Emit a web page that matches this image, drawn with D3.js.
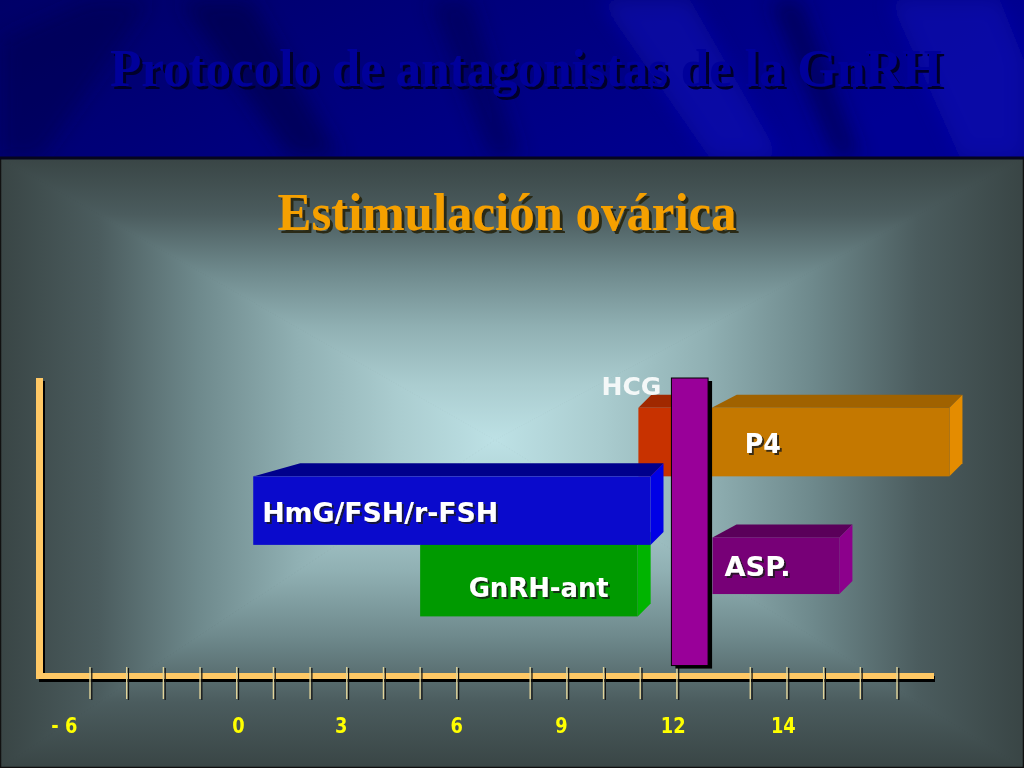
<!DOCTYPE html>
<html>
<head>
<meta charset="utf-8">
<script src="https://cdn.jsdelivr.net/npm/d3@7"></script>
<style>
  html, body { margin: 0; padding: 0; background: #000; }
  svg { display: block; }
</style>
</head>
<body>
<svg id="chart" width="1024" height="768"></svg>
<script>
// days on the horizontal axis
const tickDays = [-4, -3, -2, -1, 0, 1, 2, 3, 4, 5, 6, 8, 9, 10, 11, 12, 14, 15, 16, 17, 18];
const tickLabels = ["- 6", "0", "3", "6", "9", "12", "14"];
const tickLabelDays = [-4.7, 0.05, 2.85, 6.0, 8.85, 11.9, 14.9];

// bars: start/end in days, low/high in level units (0..10)
const barNames = ["P4-pre", "P4", "GnRH-ant", "HmG/FSH/r-FSH", "ASP.", "HCG"];
const barStart = [10.95, 12.95, 5.0, 0.45, 12.97, 11.85];
const barEnd = [12.3, 19.43, 10.93, 11.28, 16.43, 12.85];
const barLow = [6.7, 6.7, 2.0, 4.4, 2.75, 0.35];
const barHigh = [9.0, 9.0, 4.4, 6.7, 4.65, 10.0];
const barLabels = ["", "P4", "GnRH-ant", "HmG/FSH/r-FSH", "ASP.", "HCG"];

const title = "Protocolo de antagonistas de la GnRH";
const subtitle = "Estimulación ovárica";

// looks
const look = {
  "P4-pre": {front: "#c83200", top: "#a02800", side: "#c83200", lead: 13},
  "P4": {front: "#c47800", top: "#a06200", side: "#e48c00", lead: 25, anchor: "start", dx: 33, dy: 11, len: 36},
  "GnRH-ant": {front: "#009a00", top: "#007800", side: "#00b400", lead: 13, anchor: "end", dx: -29, dy: 16, len: 140},
  "HmG/FSH/r-FSH": {front: "#0a0acc", top: "#00008c", side: "#0000e6", lead: 47, anchor: "start", dx: 9, dy: 11, len: 236},
  "ASP.": {front: "#770077", top: "#5a005a", side: "#8c008c", lead: 24, anchor: "start", dx: 12, dy: 10, len: 66},
  "HCG": {front: "#990099", len: 60}
};
const depth = 13;

const svg = d3.select("#chart");
const W = 1024, H = 768, bandH = 158;
const defs = svg.append("defs");

// drop shadow filters
function shadowFilter(id, dx, col, opacity) {
  const f = defs.append("filter").attr("id", id).attr("x", "-5%").attr("y", "-20%")
    .attr("width", "115%").attr("height", "150%");
  f.append("feOffset").attr("in", "SourceAlpha").attr("dx", dx).attr("dy", dx).attr("result", "off");
  f.append("feFlood").attr("flood-color", col).attr("flood-opacity", opacity).attr("result", "col");
  f.append("feComposite").attr("in", "col").attr("in2", "off").attr("operator", "in").attr("result", "sh");
  const m = f.append("feMerge");
  m.append("feMergeNode").attr("in", "sh");
  m.append("feMergeNode").attr("in", "SourceGraphic");
}
shadowFilter("shTitle", 3, "#00002a", 1);
shadowFilter("shSub", 3, "#2c2c18", 1);
shadowFilter("shLab", 1.6, "#1a1a1a", 0.8);

// ---- backgrounds ----
const topGrad = defs.append("linearGradient").attr("id", "topGrad")
  .attr("x1", 0).attr("y1", 0).attr("x2", 1).attr("y2", 0.3);
topGrad.append("stop").attr("offset", 0).attr("stop-color", "#000068");
topGrad.append("stop").attr("offset", 0.5).attr("stop-color", "#00007e");
topGrad.append("stop").attr("offset", 1).attr("stop-color", "#000094");
svg.append("rect").attr("width", W).attr("height", bandH).attr("fill", "url(#topGrad)");

defs.append("filter").attr("id", "soft").attr("x", "-20%").attr("y", "-20%")
  .attr("width", "140%").attr("height", "140%")
  .append("feGaussianBlur").attr("stdDeviation", 10);

// streaks in the blue band
const streaks = [
  {pts: [[180, 0], [250, 0], [340, bandH], [290, bandH]], c: "#00003c", o: 0.5},
  {pts: [[430, 0], [470, 0], [520, bandH], [490, bandH]], c: "#000040", o: 0.4},
  {pts: [[600, 0], [690, 0], [780, bandH], [710, bandH]], c: "#2020d0", o: 0.35},
  {pts: [[770, 0], [800, 0], [860, bandH], [835, bandH]], c: "#000038", o: 0.5},
  {pts: [[890, 0], [1000, 0], [1024, 60], [1024, bandH], [960, bandH]], c: "#1a1ac8", o: 0.35},
  {pts: [[0, 40], [90, 0], [150, 0], [40, bandH], [0, bandH]], c: "#000040", o: 0.35}
];
const streakG = svg.append("g").attr("filter", "url(#soft)");
streakG.selectAll("path").data(streaks).join("path")
  .attr("d", d => "M" + d.pts.map(p => p.join(",")).join("L") + "Z")
  .attr("fill", d => d.c).attr("opacity", d => d.o);

// rectangular "from centre" gradient in the lower panel
const cx = 495, cy = 440;
const bgStops = [[0, "#394545"], [0.2, "#4b5c5e"], [0.4, "#6e898c"], [0.6, "#90b0b3"], [0.8, "#aacccf"], [1, "#bde1e5"]];
const faces = [
  {id: "bgTop", pts: [[0, bandH], [W, bandH], [cx, cy]], g: [0, bandH, 0, cy]},
  {id: "bgBot", pts: [[0, H], [W, H], [cx, cy]], g: [0, H, 0, cy]},
  {id: "bgLeft", pts: [[0, bandH], [0, H], [cx, cy]], g: [0, 0, cx, 0]},
  {id: "bgRight", pts: [[W, bandH], [W, H], [cx, cy]], g: [W, 0, cx, 0]}
];
faces.forEach(f => {
  const lg = defs.append("linearGradient").attr("id", f.id)
    .attr("gradientUnits", "userSpaceOnUse")
    .attr("x1", f.g[0]).attr("y1", f.g[1]).attr("x2", f.g[2]).attr("y2", f.g[3]);
  bgStops.forEach(s => lg.append("stop").attr("offset", s[0]).attr("stop-color", s[1]));
});
svg.append("g").selectAll("path").data(faces).join("path")
  .attr("d", d => "M" + d.pts.map(p => p.join(",")).join("L") + "Z")
  .attr("fill", d => `url(#${d.id})`)
  .attr("stroke", d => `url(#${d.id})`).attr("stroke-width", 1);
svg.append("rect").attr("x", 0.5).attr("y", bandH).attr("width", W - 1).attr("height", H - bandH - 0.5)
  .attr("fill", "none").attr("stroke", "#111").attr("stroke-width", 1.5);
svg.append("line").attr("x1", 0).attr("x2", W).attr("y1", bandH).attr("y2", bandH)
  .attr("stroke", "#06061e").attr("stroke-width", 3);

// ---- titles ----
const serif = "'Liberation Serif', 'Times New Roman', serif";
svg.append("text")
  .attr("x", 526).attr("y", 86)
  .attr("text-anchor", "middle")
  .attr("font-family", serif).attr("font-weight", "bold").attr("font-size", 52)
  .attr("textLength", 832).attr("lengthAdjust", "spacingAndGlyphs")
  .attr("fill", "#00009a").attr("filter", "url(#shTitle)")
  .text(title);
svg.append("text")
  .attr("x", 507).attr("y", 230)
  .attr("text-anchor", "middle")
  .attr("font-family", serif).attr("font-weight", "bold").attr("font-size", 52)
  .attr("textLength", 459).attr("lengthAdjust", "spacingAndGlyphs")
  .attr("fill", "#f5a000").attr("filter", "url(#shSub)")
  .text(subtitle);

// ---- scales ----
const x = d3.scaleLinear().domain([-4, 18]).range([90, 897]);
const y = d3.scaleLinear().domain([0, 10]).range([676, 378]);
const axisLeft = 40, axisRight = 934;

// ---- axes ----
const axisCol = "#ffc865";
const axG = svg.append("g");
axG.append("rect").attr("x", axisLeft - 1).attr("y", y(10) + 3).attr("width", 6).attr("height", y(0) - y(10) + 3)
  .attr("fill", "#000");
axG.append("rect").attr("x", axisLeft + 1).attr("y", y(0)).attr("width", axisRight - axisLeft).attr("height", 6)
  .attr("fill", "#000");
axG.append("rect").attr("x", axisLeft - 4).attr("y", y(10)).attr("width", 7).attr("height", y(0) - y(10) + 2)
  .attr("fill", axisCol);
axG.append("rect").attr("x", axisLeft - 4).attr("y", y(0) - 3).attr("width", axisRight - axisLeft + 4).attr("height", 6)
  .attr("fill", axisCol);

const tickG = svg.append("g").selectAll("g").data(tickDays).join("g")
  .attr("transform", d => `translate(${x(d)},0)`);
tickG.append("line").attr("x1", 1.8).attr("x2", 1.8).attr("y1", y(0) - 8).attr("y2", y(0) + 24)
  .attr("stroke", "#111").attr("stroke-width", 1.2);
tickG.append("line").attr("x1", 0).attr("x2", 0).attr("y1", y(0) - 9).attr("y2", y(0) + 23)
  .attr("stroke", "#e2d49a").attr("stroke-width", 1.4);

const sans = "'DejaVu Sans', Verdana, sans-serif";
// tall, narrow digits like the slide: scale horizontally
svg.append("g").selectAll("text").data(tickLabels).join("text")
  .attr("transform", (d, i) => `translate(${x(tickLabelDays[i])},733) scale(0.85,1)`)
  .attr("text-anchor", "middle")
  .attr("font-family", sans)
  .attr("font-weight", "bold")
  .attr("font-size", 21)
  .attr("fill", "#ffff00")
  .text(d => d);

// ---- 3D bars ----
const bars = barNames.map((n, i) => ({
  name: n, label: barLabels[i],
  x0: x(barStart[i]), x1: x(barEnd[i]), yTop: y(barHigh[i]), yBot: y(barLow[i])
}));
const boxes = bars.filter(b => b.name !== "HCG");
// draw order: red/orange row, then green, then blue, then ASP
const order = ["P4-pre", "P4", "GnRH-ant", "HmG/FSH/r-FSH", "ASP."];
const boxG = svg.append("g").selectAll("g")
  .data(order.map(n => boxes.find(b => b.name === n))).join("g");
boxG.append("path")
  .attr("d", b => `M${b.x0},${b.yTop}L${b.x0 + look[b.name].lead},${b.yTop - depth}L${b.x1 + depth},${b.yTop - depth}L${b.x1},${b.yTop}Z`)
  .attr("fill", b => look[b.name].top);
boxG.append("path")
  .attr("d", b => `M${b.x1},${b.yTop}L${b.x1 + depth},${b.yTop - depth}L${b.x1 + depth},${b.yBot - depth}L${b.x1},${b.yBot}Z`)
  .attr("fill", b => look[b.name].side);
boxG.append("rect")
  .attr("x", b => b.x0).attr("y", b => b.yTop)
  .attr("width", b => b.x1 - b.x0).attr("height", b => b.yBot - b.yTop)
  .attr("fill", b => look[b.name].front);

// HCG vertical bar
const hcg = bars.find(b => b.name === "HCG");
svg.append("rect").attr("x", hcg.x0 + 4).attr("y", hcg.yTop + 3)
  .attr("width", hcg.x1 - hcg.x0).attr("height", hcg.yBot - hcg.yTop).attr("fill", "#000");
svg.append("rect").attr("x", hcg.x0).attr("y", hcg.yTop)
  .attr("width", hcg.x1 - hcg.x0).attr("height", hcg.yBot - hcg.yTop)
  .attr("fill", look.HCG.front).attr("stroke", "#000").attr("stroke-width", 1);

// ---- labels ----
svg.append("g").selectAll("text")
  .data(bars.filter(b => b.label && b.name !== "HCG")).join("text")
  .attr("x", b => look[b.name].anchor === "end" ? b.x1 + look[b.name].dx : b.x0 + look[b.name].dx)
  .attr("y", b => (b.yTop + b.yBot) / 2 + look[b.name].dy)
  .attr("text-anchor", b => look[b.name].anchor)
  .attr("font-family", sans)
  .attr("font-weight", "bold")
  .attr("font-size", 27)
  .attr("textLength", b => look[b.name].len)
  .attr("lengthAdjust", "spacingAndGlyphs")
  .attr("fill", "#fff")
  .attr("filter", "url(#shLab)")
  .text(b => b.label);

svg.append("text")
  .attr("x", hcg.x0 - 10).attr("y", hcg.yTop + 17)
  .attr("text-anchor", "end")
  .attr("font-family", sans)
  .attr("font-weight", "bold")
  .attr("font-size", 25)
  .attr("textLength", look.HCG.len)
  .attr("lengthAdjust", "spacingAndGlyphs")
  .attr("fill", "#f4f8f8")
  .text(hcg.label);
</script>
</body>
</html>
